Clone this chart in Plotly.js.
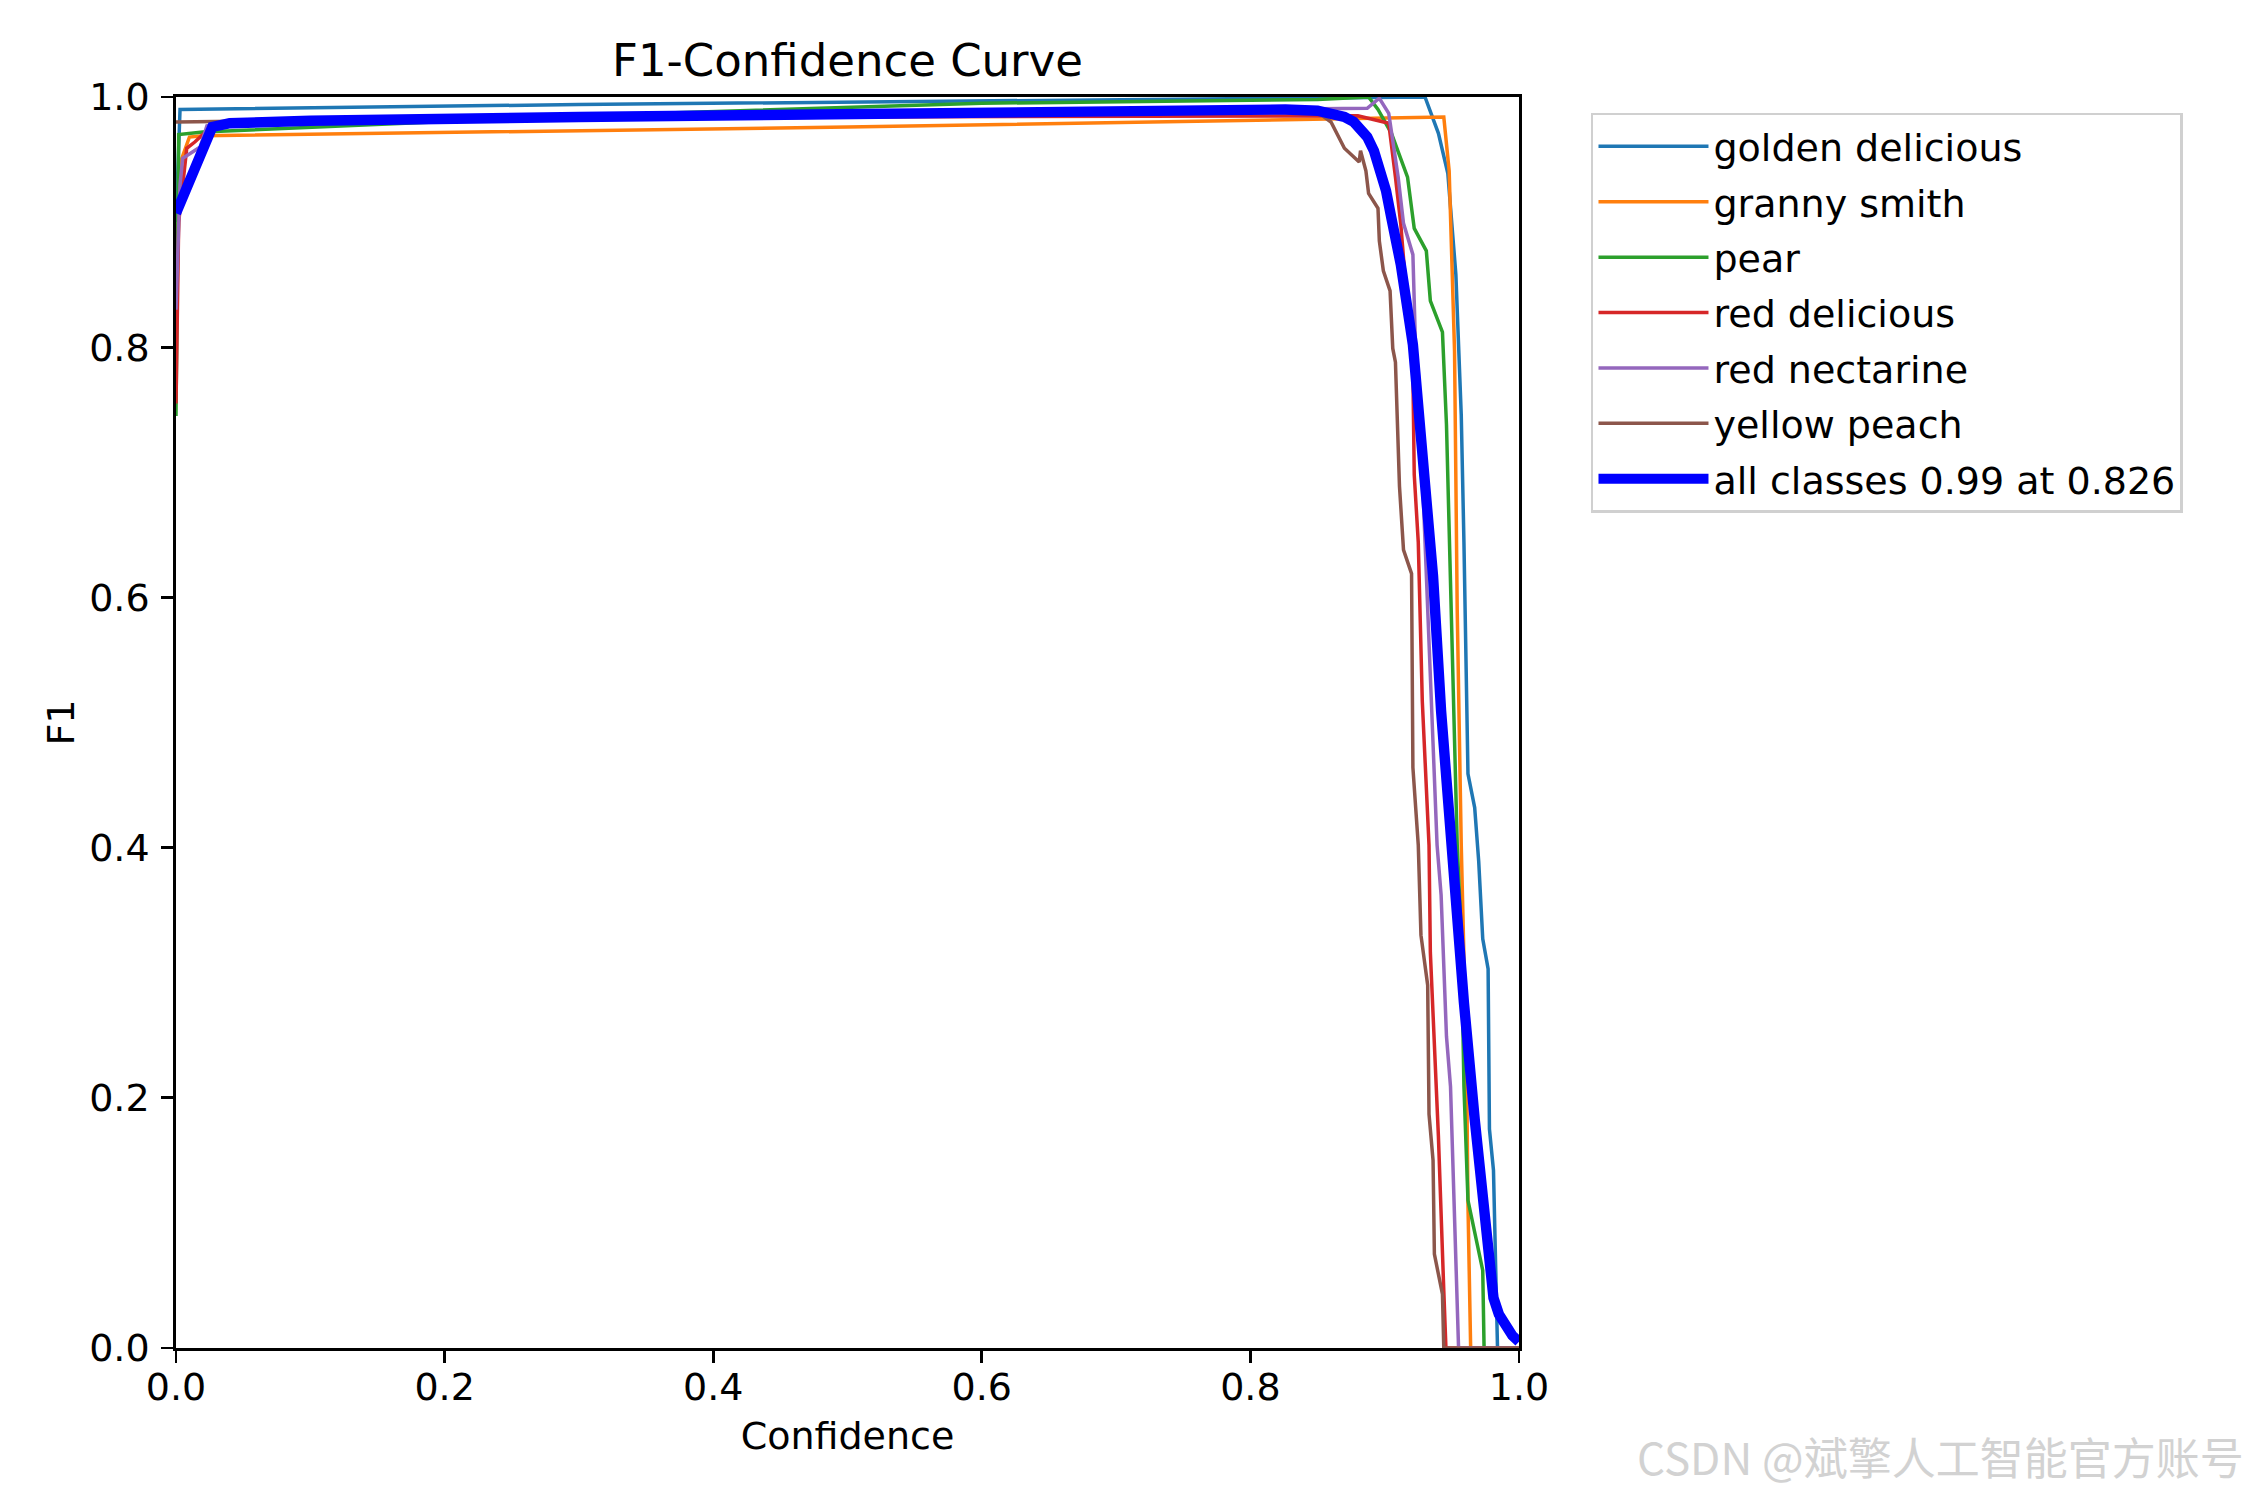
<!DOCTYPE html>
<html>
<head>
<meta charset="utf-8">
<title>F1-Confidence Curve</title>
<script src="https://cdn.plot.ly/plotly-3.0.1.min.js"></script>
<style>
    html, body { margin: 0; padding: 0; background: #ffffff; }
    #chart { width: 2250px; height: 1500px; }
</style>
</head>
<body>
<div id="chart"></div>
<script>
// Class names, in legend order
const classNames = ['golden delicious', 'granny smith', 'pear', 'red delicious', 'red nectarine', 'yellow peach'];
const allLabel = 'all classes 0.99 at 0.826';

// golden delicious
const goldenX = [0, 0.003, 0.3, 0.5, 0.8, 0.9, 0.93, 0.94, 0.947, 0.953, 0.955, 0.957, 0.959, 0.961, 0.962, 0.967, 0.969, 0.970, 0.973, 0.977, 0.978, 0.981, 0.984, 1.0];
const goldenY = [0.90, 0.990, 0.994, 0.996, 0.999, 1.0, 1.0, 0.971, 0.939, 0.858, 0.797, 0.746, 0.644, 0.537, 0.459, 0.432, 0.402, 0.389, 0.327, 0.303, 0.175, 0.142, 0.0, 0.0];

// granny smith
const grannyX = [0, 0.004, 0.01, 0.02, 0.5, 0.944, 0.948, 0.952, 0.954, 0.957, 0.961, 0.962, 0.964, 1.0];
const grannyY = [0.85, 0.95, 0.968, 0.969, 0.976, 0.984, 0.941, 0.797, 0.59, 0.402, 0.223, 0.115, 0.0, 0.0];

// pear
const pearX = [0, 0.002, 0.02, 0.3, 0.6, 0.85, 0.888, 0.895, 0.905, 0.917, 0.922, 0.931, 0.934, 0.943, 0.946, 0.949, 0.954, 0.957, 0.959, 0.962, 0.973, 0.974, 1.0];
const pearY = [0.745, 0.970, 0.972, 0.985, 0.995, 0.998, 1.0, 0.99, 0.971, 0.936, 0.895, 0.877, 0.837, 0.812, 0.738, 0.617, 0.402, 0.33, 0.209, 0.118, 0.062, 0.0, 0.0];

// red delicious
const redDelX = [0, 0.002, 0.008, 0.014, 0.024, 0.06, 0.5, 0.88, 0.903, 0.906, 0.908, 0.912, 0.921, 0.922, 0.925, 0.928, 0.933, 0.934, 0.94, 0.944, 0.9456, 1.0];
const redDelY = [0.755, 0.90, 0.959, 0.964, 0.974, 0.980, 0.984, 0.985, 0.979, 0.955, 0.936, 0.898, 0.778, 0.698, 0.644, 0.517, 0.402, 0.316, 0.169, 0.046, 0.0, 0.0];

// red nectarine
const nectX = [0, 0.003, 0.005, 0.018, 0.023, 0.06, 0.5, 0.887, 0.896, 0.903, 0.91, 0.914, 0.921, 0.923, 0.925, 0.934, 0.939, 0.942, 0.946, 0.949, 0.955, 1.0];
const nectY = [0.83, 0.93, 0.951, 0.96, 0.977, 0.982, 0.987, 0.991, 0.999, 0.987, 0.936, 0.899, 0.874, 0.799, 0.78, 0.537, 0.402, 0.362, 0.249, 0.209, 0.0, 0.0];

// yellow peach
const peachX = [0, 0.3, 0.6, 0.85, 0.86, 0.87, 0.881, 0.882, 0.886, 0.888, 0.895, 0.896, 0.899, 0.904, 0.906, 0.908, 0.911, 0.914, 0.92, 0.921, 0.925, 0.927, 0.932, 0.933, 0.936, 0.937, 0.943, 0.944, 1.0];
const peachY = [0.98, 0.984, 0.987, 0.988, 0.98, 0.959, 0.948, 0.957, 0.941, 0.923, 0.911, 0.885, 0.861, 0.845, 0.799, 0.788, 0.689, 0.638, 0.619, 0.464, 0.402, 0.33, 0.29, 0.187, 0.15, 0.075, 0.043, 0.0, 0.0];

// all classes (mean)
const allX = [0, 0.027, 0.04, 0.06, 0.1, 0.3, 0.6, 0.826, 0.85, 0.862, 0.87, 0.877, 0.882, 0.887, 0.892, 0.896, 0.901, 0.905, 0.912, 0.921, 0.929, 0.936, 0.942, 0.949, 0.953, 0.959, 0.967, 0.977, 0.981, 0.985, 0.989, 0.995, 1.0];
const allY = [0.907, 0.976, 0.979, 0.980, 0.981, 0.984, 0.988, 0.990, 0.989, 0.987, 0.984, 0.980, 0.975, 0.968, 0.957, 0.944, 0.925, 0.903, 0.866, 0.802, 0.697, 0.617, 0.509, 0.402, 0.344, 0.276, 0.183, 0.088, 0.040, 0.027, 0.019, 0.010, 0.005];

const tickVals = [0, 0.2, 0.4, 0.6, 0.8, 1.0];
const tickText = ['0.0', '0.2', '0.4', '0.6', '0.8', '1.0'];

const classColors = ['#1f77b4', '#ff7f0e', '#2ca02c', '#d62728', '#9467bd', '#8c564b'];
const seriesX = [goldenX, grannyX, pearX, redDelX, nectX, peachX];
const seriesY = [goldenY, grannyY, pearY, redDelY, nectY, peachY];

const FONT = 'DejaVu Sans, sans-serif';

const traces = classNames.map((name, i) => ({
    x: seriesX[i],
    y: seriesY[i],
    mode: 'lines',
    name: name,
    legendgroup: 'g' + i,
    line: { color: classColors[i], width: 3.5 }
}));

traces.push({
    x: allX,
    y: allY,
    mode: 'lines',
    name: allLabel,
    legendgroup: 'all',
    line: { color: '#0000ff', width: 10.4 }
});

const axisCommon = {
    range: [0, 1],
    tickvals: tickVals,
    ticktext: tickText,
    ticks: 'outside',
    ticklen: 12,
    tickwidth: 2.8,
    tickcolor: '#000000',
    tickfont: { family: FONT, size: 38, color: '#000000' },
    showline: true,
    linecolor: '#000000',
    linewidth: 2.8,
    mirror: true,
    showgrid: false,
    zeroline: false,
    fixedrange: true
};

const layout = {
    width: 2250,
    height: 1500,
    margin: { l: 176, r: 731, t: 97, b: 152 },
    paper_bgcolor: '#ffffff',
    plot_bgcolor: '#ffffff',
    font: { family: FONT, color: '#000000' },
    title: {
        text: 'F1-Confidence Curve',
        font: { family: FONT, size: 45, color: '#000000' },
        xref: 'paper',
        x: 0.5,
        xanchor: 'center',
        yref: 'container',
        y: 0.96,
        yanchor: 'middle'
    },
    xaxis: Object.assign({}, axisCommon, {
        ticklabelstandoff: -8,
        title: { text: 'Confidence', font: { family: FONT, size: 38, color: '#000000' }, standoff: 14 }
    }),
    yaxis: Object.assign({}, axisCommon, {
        ticklabelstandoff: 4,
        title: { text: 'F1', font: { family: FONT, size: 38, color: '#000000' }, standoff: 3 }
    }),
    showlegend: true,
    legend: {
        x: 1.0536,
        y: 0.9875,
        xanchor: 'left',
        yanchor: 'top',
        bgcolor: '#ffffff',
        bordercolor: '#d0d0d0',
        borderwidth: 2.5,
        font: { family: FONT, size: 38, color: '#000000' },
        itemwidth: 110,
        tracegroupgap: 3,
        traceorder: 'grouped'
    },
    annotations: [{
        text: 'CSDN @斌擎人工智能官方账号',
        xref: 'paper',
        yref: 'paper',
        x: 1.5413,
        y: -0.0863,
        xanchor: 'right',
        yanchor: 'middle',
        showarrow: false,
        font: { family: 'Noto Sans CJK SC, sans-serif', size: 44, color: '#d2d2d2' }
    }]
};

Plotly.newPlot('chart', traces, layout, { displayModeBar: false, staticPlot: true });
</script>
</body>
</html>
